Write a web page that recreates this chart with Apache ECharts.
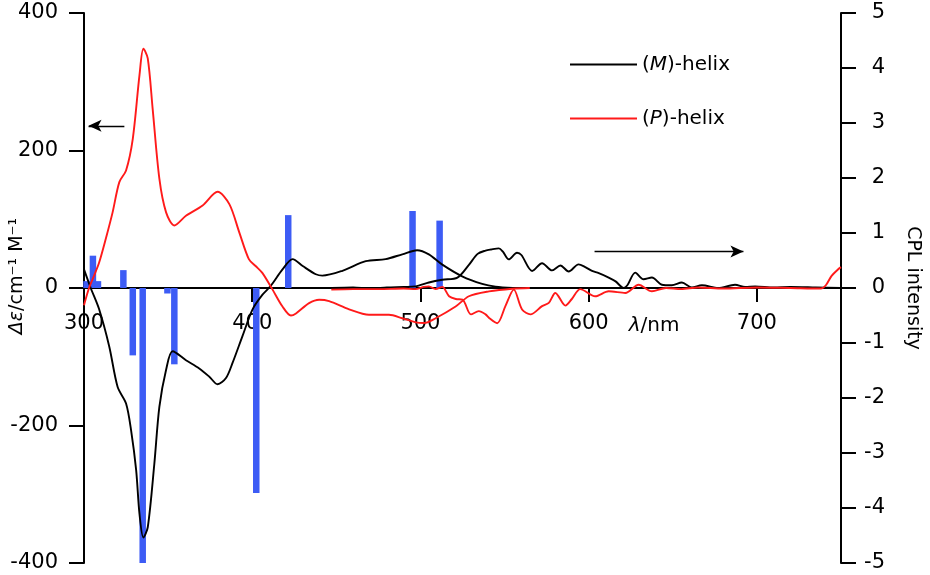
<!DOCTYPE html>
<html>
<head>
<meta charset="utf-8">
<title>CD / CPL</title>
<script src="https://cdn.jsdelivr.net/npm/echarts@6/dist/echarts.min.js"></script>
<style>
  html, body { margin: 0; padding: 0; background: #fff; }
  #main { width: 930px; height: 575px; }
</style>
</head>
<body>
<div id="main"></div>
<script>
// 波长 (nm) 和 CD 数据, 左轴 Δε
var cdWaveP = [300, 303, 306, 309, 313, 317, 321, 325, 329, 333, 335.3, 337.9, 340.8, 344.8, 348.8, 353.7, 360.6, 370.5, 379.4, 386.4, 392.3, 398, 402, 406, 412, 418, 423, 426, 433.8, 439.8, 445.7, 457.6, 469.4, 481.3, 489.2, 497.2, 502, 509, 520.9, 528.8, 540.7, 554.5, 565]
var cdP = [-25, 0, 18, 37, 72, 110, 154, 171, 217, 310, 348, 334, 261, 159, 110, 91, 105, 120, 140, 122, 81, 42, 32, 22, -2, -27, -40, -37, -22, -17, -19, -31, -39, -39, -44, -50, -51, -44, -27, -12, -5, -1, 0]

var cdWaveM = [300, 304, 309, 315, 320, 325, 328, 331, 333, 335.3, 337.9, 341.8, 344.8, 348.8, 352.7, 360.6, 368.5, 374.5, 379.4, 384.4, 388.3, 394.2, 400.2, 406, 411, 418, 424, 430, 437.8, 441.7, 453.6, 467.5, 479.3, 489.2, 498, 505, 513, 524.8, 536.7, 544.6, 555]
var cdM = [27, 0, -31, -85, -144, -168, -207, -265, -329, -363, -348, -256, -173, -119, -92, -105, -117, -129, -140, -131, -109, -70, -31, -10, 3, 27, 42, 32, 20, 18, 25, 39, 42, 49, 55, 49, 34, 17, 6, 2, 0]

// CPL 数据, 右轴
var cplWaveM = [447, 460, 470, 480, 490, 497, 505, 513, 522, 528.8, 534, 538.7, 542, 546.6, 549, 552.5, 557.4, 560, 566.4, 572.3, 578.2, 583.2, 588.1, 594, 598, 602, 606, 611.9, 616, 620.8, 623, 627.7, 632.6, 637.6, 643.5, 649.4, 655.4, 661.3, 667.3, 677, 687, 693, 699, 710, 720, 735, 750]
var cplM = [0, 0.01, -0.01, 0.01, 0.02, 0.03, 0.1, 0.15, 0.19, 0.42, 0.62, 0.68, 0.7, 0.72, 0.66, 0.52, 0.64, 0.6, 0.31, 0.45, 0.32, 0.41, 0.3, 0.43, 0.38, 0.31, 0.27, 0.19, 0.12, 0, 0.05, 0.28, 0.16, 0.19, 0.06, 0.05, 0.1, 0.01, 0.05, 0, 0.06, 0.02, 0.03, 0.01, 0.02, 0.01, 0]

var cplWaveP = [447, 460, 475, 490, 497, 502, 505, 509, 513, 517, 521, 525, 530, 534.7, 538.7, 541, 545.6, 550.5, 555.5, 560.4, 565.4, 572.3, 576.3, 580.2, 586.2, 590, 595, 603.9, 611.9, 621.8, 629.7, 637.6, 646, 655, 665, 680, 700, 720, 738, 741, 744.4, 748.3, 750]
var cplP = [-0.03, -0.02, -0.02, -0.01, -0.02, 0.02, 0.03, -0.02, 0.02, -0.15, -0.2, -0.21, -0.48, -0.42, -0.48, -0.55, -0.64, -0.33, -0.03, -0.39, -0.48, -0.33, -0.27, -0.09, -0.32, -0.2, -0.02, -0.15, -0.06, -0.09, 0.06, -0.06, 0, -0.02, 0.01, -0.01, 0.01, 0, -0.01, 0.05, 0.22, 0.34, 0.38]

// 计算的旋转强度 (竖条)
var barWave = [301.5, 305.3, 308.3, 323.4, 329, 334.9, 349.6, 353.7, 402.4, 421.4, 495.3, 511.4]
var barVal = [10, 47, 10, 26, -98, -400, -8, -111, -298, 106, 112, 98]

// 轴刻度
var xTicks = [300, 400, 500, 600, 700]
var leftTicks = [-400, -200, 0, 200, 400]
var rightTicks = [-5, -4, -3, -2, -1, 0, 1, 2, 3, 4, 5]

// 箭头 (左轴单位)
var arrowLeft = [[324, 236], [302.7, 236]]
var arrowRight = [[603.5, 53], [692, 53]]

var zip = function(xs, ys) {
    var r = []
    for (var i = 0; i < xs.length; i++) {
        r.push([xs[i], ys[i]])
    }
    return r
}

var font = 'DejaVu Sans'
var red = '#ff1a1a'
var blue = '#3d5cf5'
var lineWidth = 1.9

// 网格尺寸, x 轴要放在 0 的位置
var gridTop = 13
var gridBottom = 12
var plotHeight = 575 - gridTop - gridBottom

var legendName = function(name) {
    var letter = name.charAt(1)
    return '{n|(}{i|' + letter + '}{n|' + name.slice(2) + '}'
}

var myChart = echarts.init(document.getElementById('main'), null, { renderer: 'canvas' })

var option = {
    animation: false,
    backgroundColor: '#fff',
    grid: { left: 84, right: 89, top: gridTop, bottom: gridBottom, containLabel: false, outerBoundsMode: 'none' },
    legend: {
        orient: 'vertical',
        left: 565,
        top: 48,
        icon: 'rect',
        itemWidth: 67,
        itemHeight: 2,
        itemGap: 31,
        data: ['(M)-helix', '(P)-helix'],
        formatter: legendName,
        textStyle: {
            fontFamily: font,
            fontSize: 20,
            lineHeight: 23,
            color: '#000',
            rich: {
                n: { fontFamily: font, fontSize: 20, lineHeight: 23, color: '#000' },
                i: { fontFamily: font, fontSize: 20, lineHeight: 23, color: '#000', fontStyle: 'italic' }
            }
        }
    },
    xAxis: {
        type: 'value',
        position: 'bottom',
        offset: -plotHeight / 2,
        min: xTicks[0],
        max: 750,
        interval: 100,
        axisLine: { onZero: false, lineStyle: { color: '#000', width: 2 } },
        axisTick: { show: true, length: 14, lineStyle: { color: '#000', width: 2 } },
        axisLabel: {
            margin: 25,
            fontFamily: font,
            fontSize: 21,
            color: '#000',
            formatter: function(v) {
                return xTicks.indexOf(v) >= 0 ? String(v) : ''
            }
        },
        splitLine: { show: false }
    },
    yAxis: [
        {
            type: 'value',
            min: leftTicks[0],
            max: leftTicks[leftTicks.length - 1],
            interval: 200,
            axisLine: { show: true, onZero: false, lineStyle: { color: '#000', width: 2 } },
            axisTick: { show: true, length: 15, lineStyle: { color: '#000', width: 2 } },
            axisLabel: { margin: 26, fontFamily: font, fontSize: 21, color: '#000' },
            splitLine: { show: false }
        },
        {
            type: 'value',
            position: 'right',
            min: rightTicks[0],
            max: rightTicks[rightTicks.length - 1],
            interval: 1,
            axisLine: { show: true, onZero: false, lineStyle: { color: '#000', width: 2 } },
            axisTick: { show: true, length: 15, lineStyle: { color: '#000', width: 2 } },
            axisLabel: { margin: 44, align: 'right', fontFamily: font, fontSize: 21, color: '#000' },
            splitLine: { show: false }
        }
    ],
    graphic: [
        {
            type: 'text',
            x: 17,
            y: 276,
            rotation: Math.PI / 2,
            style: {
                text: '{i|Δε}{n|/cm⁻¹ M⁻¹}',
                align: 'center',
                verticalAlign: 'middle',
                rich: {
                    i: { fontFamily: font, fontSize: 19, fontStyle: 'italic', fill: '#000' },
                    n: { fontFamily: font, fontSize: 19, fill: '#000' }
                }
            }
        },
        {
            type: 'text',
            x: 913,
            y: 288,
            rotation: -Math.PI / 2,
            style: {
                text: 'CPL intensity',
                align: 'center',
                verticalAlign: 'middle',
                fontFamily: font,
                fontSize: 19,
                fill: '#000'
            }
        },
        {
            type: 'text',
            x: 654,
            y: 326,
            style: {
                text: '{i|λ}{n|/nm}',
                align: 'center',
                verticalAlign: 'middle',
                rich: {
                    i: { fontFamily: font, fontSize: 20, fontStyle: 'italic', fill: '#000' },
                    n: { fontFamily: font, fontSize: 20, fill: '#000' }
                }
            }
        }
    ],
    series: [
        {
            name: '(M)-helix',
            type: 'line',
            yAxisIndex: 0,
            data: zip(cdWaveM, cdM),
            smooth: 0.3,
            symbol: 'none',
            lineStyle: { color: '#000', width: lineWidth },
            itemStyle: { color: '#000' },
            markLine: {
                silent: true,
                symbol: ['none', 'arrow'],
                symbolSize: [9, 13],
                label: { show: false },
                lineStyle: { color: '#000', width: 1.3, type: 'solid' },
                data: [
                    [{ coord: arrowLeft[0] }, { coord: arrowLeft[1] }],
                    [{ coord: arrowRight[0] }, { coord: arrowRight[1] }]
                ]
            }
        },
        {
            name: '(P)-helix',
            type: 'line',
            yAxisIndex: 0,
            data: zip(cdWaveP, cdP),
            smooth: 0.3,
            symbol: 'none',
            lineStyle: { color: red, width: lineWidth },
            itemStyle: { color: red }
        },
        {
            name: '(M)-helix',
            type: 'line',
            yAxisIndex: 1,
            data: zip(cplWaveM, cplM),
            smooth: 0.3,
            symbol: 'none',
            lineStyle: { color: '#000', width: lineWidth },
            itemStyle: { color: '#000' }
        },
        {
            name: '(P)-helix',
            type: 'line',
            yAxisIndex: 1,
            data: zip(cplWaveP, cplP),
            smooth: 0.3,
            symbol: 'none',
            lineStyle: { color: red, width: lineWidth },
            itemStyle: { color: red }
        },
        {
            name: 'calc',
            type: 'bar',
            yAxisIndex: 0,
            data: zip(barWave, barVal),
            barWidth: 6.5,
            itemStyle: { color: blue },
            z: 3
        }
    ]
}

myChart.setOption(option)
</script>
</body>
</html>
